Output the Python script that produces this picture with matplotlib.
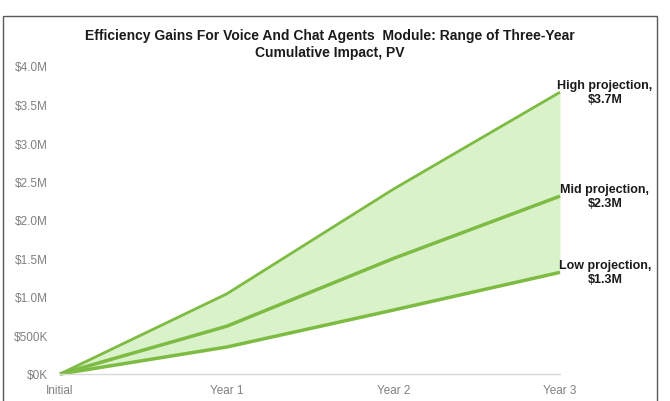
import matplotlib
matplotlib.use("Agg")
import matplotlib.pyplot as plt
from matplotlib.patches import Rectangle

plt.rcParams['font.family'] = ['Liberation Sans', 'DejaVu Sans']

periods = ["Initial", "Year 1", "Year 2", "Year 3"]
high = [0, 1.04e6, 2.40e6, 3.66e6]
mid = [0, 0.62e6, 1.50e6, 2.31e6]
low = [0, 0.35e6, 0.83e6, 1.32e6]
end_labels = ["High projection,\n$3.7M", "Mid projection,\n$2.3M", "Low projection,\n$1.3M"]
yticks = [0, 0.5e6, 1.0e6, 1.5e6, 2.0e6, 2.5e6, 3.0e6, 3.5e6, 4.0e6]
ytick_labels = ["$0K", "$500K", "$1.0M", "$1.5M", "$2.0M", "$2.5M", "$3.0M", "$3.5M", "$4.0M"]

line_col = "#7dbb42"
fill_col = "#d9f2c9"
tick_col = "#808080"

fig = plt.figure(figsize=(6.7, 4.02), dpi=100)
ax = fig.add_axes([60/670, 27/402, 500/670, 308/402])

x = list(range(len(periods)))
ax.fill_between(x, low, high, color=fill_col, lw=0, clip_on=False)
ax.plot(x, high, color=line_col, lw=2.0, clip_on=False, solid_capstyle="butt")
ax.plot(x, mid, color=line_col, lw=2.5, clip_on=False, solid_capstyle="butt")
ax.plot(x, low, color=line_col, lw=2.5, clip_on=False, solid_capstyle="butt")

for series, lab in zip([high, mid, low], end_labels):
    ax.text(3.27, series[-1], lab, ha="center", va="center", fontsize=9,
            fontweight="bold", color="#1a1a1a", linespacing=1.25)

ax.set_xlim(0, 3)
ax.set_ylim(0, 4e6)
ax.set_xticks(x)
ax.set_xticklabels(periods)
ax.set_yticks(yticks)
ax.set_yticklabels(ytick_labels)
ax.tick_params(axis="both", length=0, colors=tick_col, labelsize=8.5)
ax.tick_params(axis="x", pad=7)
ax.tick_params(axis="y", pad=8.5)
for s in ["top", "right", "left"]:
    ax.spines[s].set_visible(False)
ax.spines["bottom"].set_color("#d9d9d9")
ax.spines["bottom"].set_linewidth(1)

fig.text(330/670, 1 - 44.5/402, "Efficiency Gains For Voice And Chat Agents  Module: Range of Three-Year\nCumulative Impact, PV",
         ha="center", va="center", fontsize=10, fontweight="bold", color="#1a1a1a", linespacing=1.2)

fig.patches.append(Rectangle((3/670, -0.05), 654/670, 1.05 - 17/402, transform=fig.transFigure,
                             fill=False, edgecolor="#595959", lw=1))

fig.savefig("out.png", dpi=100)
